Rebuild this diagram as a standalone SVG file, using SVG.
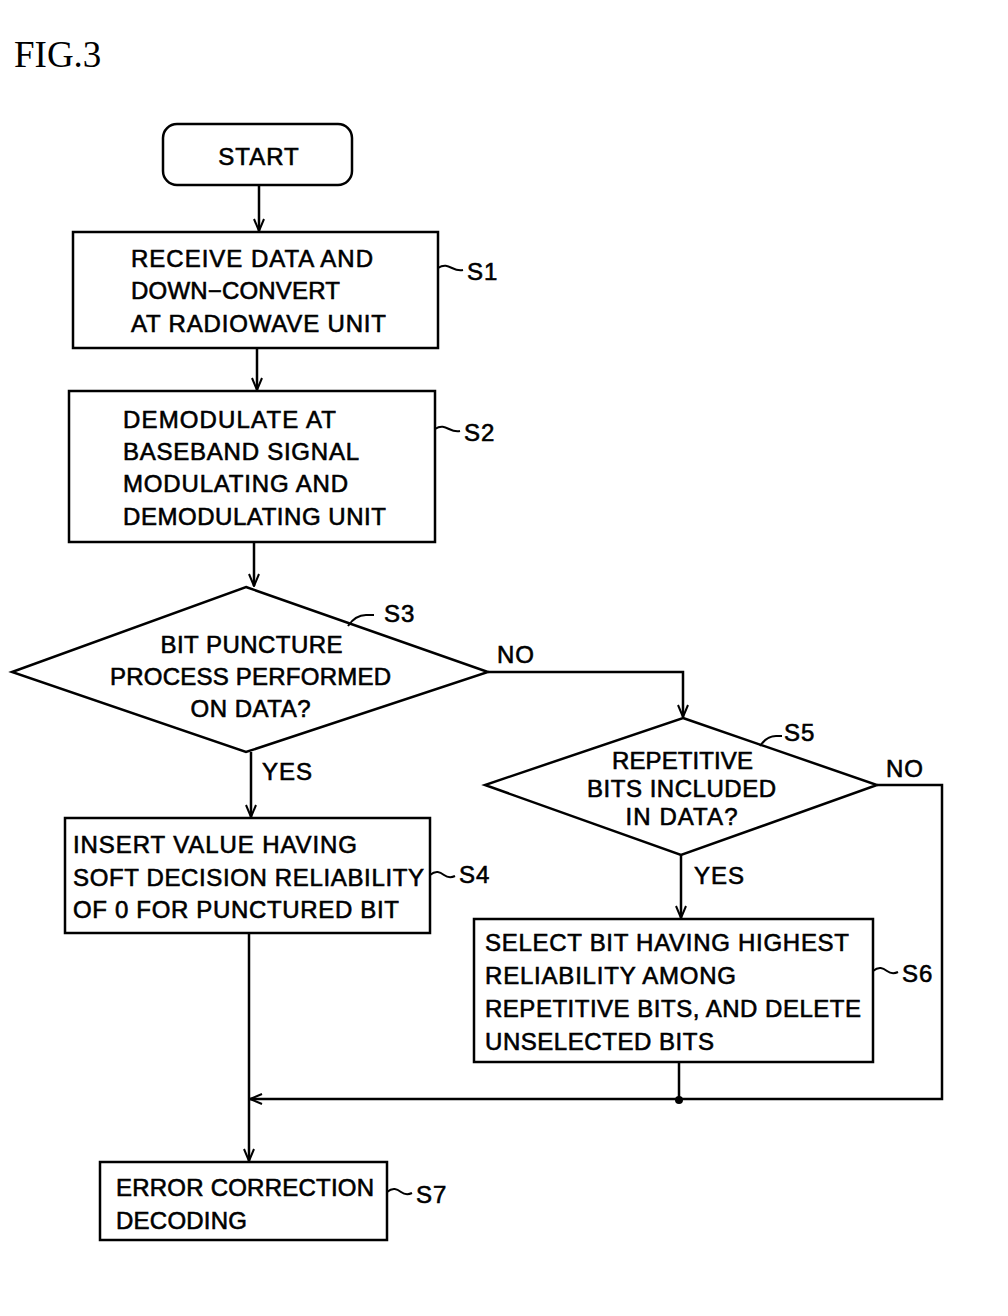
<svg xmlns="http://www.w3.org/2000/svg" width="1008" height="1316" viewBox="0 0 1008 1316">
<style>
.n{fill:#fff;stroke:#000;stroke-width:2.5}
.t{font-family:"Liberation Sans",Arial,sans-serif;font-size:24px;letter-spacing:1px;fill:#000;stroke:#000;stroke-width:0.6}
.c{text-anchor:middle}
.l{fill:none;stroke:#000;stroke-width:2.5}
.w{fill:none;stroke:#000;stroke-width:2}
</style>
<defs>
<marker id="a" viewBox="0 0 14 12" refX="13" refY="6" markerWidth="14" markerHeight="12" markerUnits="userSpaceOnUse" orient="auto">
<path d="M1,1 L13,6 L1,11" fill="none" stroke="#000" stroke-width="2"/>
</marker>
</defs>
<rect width="1008" height="1316" fill="#fff"/>
<text x="14" y="67" font-family="'Liberation Serif','Times New Roman',serif" font-size="37">FIG.3</text>

<g id="connectors">
<line class="l" x1="259" y1="185" x2="259" y2="231" marker-end="url(#a)"/>
<line class="l" x1="257" y1="348" x2="257" y2="390" marker-end="url(#a)"/>
<line class="l" x1="254" y1="542" x2="254" y2="586" marker-end="url(#a)"/>
<polyline class="l" points="488,672 683,672 683,717" marker-end="url(#a)"/>
<line class="l" x1="251" y1="752" x2="251" y2="817" marker-end="url(#a)"/>
<line class="l" x1="681" y1="855" x2="681" y2="918" marker-end="url(#a)"/>
<line class="l" x1="249" y1="933" x2="249" y2="1161" marker-end="url(#a)"/>
<polyline class="l" points="877,785 942,785 942,1099 250,1099" marker-end="url(#a)"/>
<line class="l" x1="679" y1="1062" x2="679" y2="1099"/>
<circle cx="679" cy="1100" r="4" fill="#000"/>
<text class="t" x="497" y="663">NO</text>
<text class="t" x="262" y="780">YES</text>
<text class="t" x="886" y="777">NO</text>
<text class="t" x="694" y="884">YES</text>
</g>

<g id="start">
<rect class="n" x="163" y="124" width="189" height="61" rx="14"/>
<text class="t c" x="259" y="165">START</text>
</g>

<g id="s1">
<rect class="n" x="73" y="232" width="365" height="116"/>
<text class="t" x="131" y="267" textLength="243">RECEIVE DATA AND</text>
<text class="t" x="131" y="299" textLength="210">DOWN−CONVERT</text>
<text class="t" x="131" y="332" textLength="256">AT RADIOWAVE UNIT</text>
<path class="w" d="M438,268 c6,-4 10,-2 14,0 s7,3 11,2"/>
<text class="t" x="467" y="280">S1</text>
</g>

<g id="s2">
<rect class="n" x="69" y="391" width="366" height="151"/>
<text class="t" x="123" y="428" textLength="214">DEMODULATE AT</text>
<text class="t" x="123" y="460" textLength="237">BASEBAND SIGNAL</text>
<text class="t" x="123" y="492" textLength="226">MODULATING AND</text>
<text class="t" x="123" y="525" textLength="264">DEMODULATING UNIT</text>
<path class="w" d="M435,429 c6,-4 10,-2 14,0 s7,3 11,2"/>
<text class="t" x="464" y="441">S2</text>
</g>

<g id="s3">
<polygon class="n" points="246,587 488,672 246,752 12,672"/>
<text class="t c" x="252" y="653" textLength="183">BIT PUNCTURE</text>
<text class="t c" x="251" y="685" textLength="282">PROCESS PERFORMED</text>
<text class="t c" x="251" y="717" textLength="121">ON DATA?</text>
<path class="w" d="M348,626 c4,-6 10,-11 18,-11 l8,0"/>
<text class="t" x="384" y="622">S3</text>
</g>

<g id="s4">
<rect class="n" x="65" y="818" width="365" height="115"/>
<text class="t" x="73" y="853" textLength="285">INSERT VALUE HAVING</text>
<text class="t" x="73" y="886" textLength="352">SOFT DECISION RELIABILITY</text>
<text class="t" x="73" y="918" textLength="327">OF 0 FOR PUNCTURED BIT</text>
<path class="w" d="M430,875 c6,-5 10,-3 14,0 s7,3 11,1"/>
<text class="t" x="459" y="883">S4</text>
</g>

<g id="s5">
<polygon class="n" points="683,718 877,785 681,855 485,785"/>
<text class="t c" x="683" y="769" textLength="142">REPETITIVE</text>
<text class="t c" x="682" y="797" textLength="190">BITS INCLUDED</text>
<text class="t c" x="682" y="825" textLength="113">IN DATA?</text>
<path class="w" d="M760,746 c4,-6 9,-10 16,-10 l6,0"/>
<text class="t" x="784" y="741">S5</text>
</g>

<g id="s6">
<rect class="n" x="474" y="919" width="399" height="143"/>
<text class="t" x="485" y="951" textLength="365">SELECT BIT HAVING HIGHEST</text>
<text class="t" x="485" y="984" textLength="252">RELIABILITY AMONG</text>
<text class="t" x="485" y="1017" textLength="377">REPETITIVE BITS, AND DELETE</text>
<text class="t" x="485" y="1050" textLength="230">UNSELECTED BITS</text>
<path class="w" d="M873,971 c6,-5 10,-3 14,0 s7,3 11,1"/>
<text class="t" x="902" y="982">S6</text>
</g>

<g id="s7">
<rect class="n" x="100" y="1162" width="287" height="78"/>
<text class="t" x="116" y="1196" textLength="259">ERROR CORRECTION</text>
<text class="t" x="116" y="1229" textLength="132">DECODING</text>
<path class="w" d="M387,1192 c6,-5 10,-3 14,0 s7,3 11,1"/>
<text class="t" x="416" y="1203">S7</text>
</g>
</svg>
